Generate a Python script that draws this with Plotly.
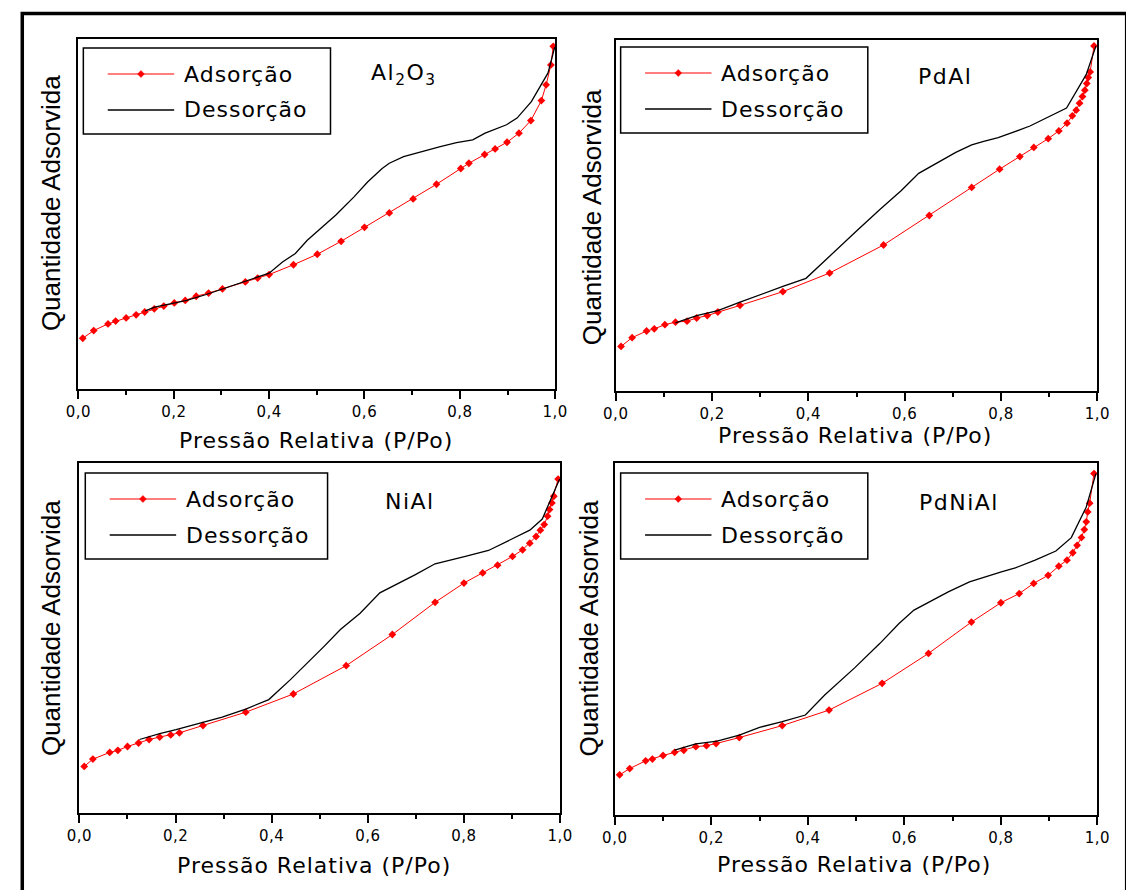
import plotly.graph_objects as go

W, H = 1126, 890

# ---- Isotherm data: relative pressure P/Po and adsorbed quantity (arbitrary units) ----
al2o3_ads_p = [0.009, 0.032, 0.062, 0.078, 0.10, 0.121, 0.139, 0.159, 0.179, 0.201, 0.224, 0.247,
               0.273, 0.302, 0.350, 0.376, 0.40, 0.451, 0.501, 0.551, 0.60, 0.652, 0.702, 0.751,
               0.802, 0.819, 0.852, 0.874, 0.899, 0.924, 0.949, 0.971, 0.981, 0.991, 0.996]
al2o3_ads_q = [14.5, 16.7, 18.6, 19.4, 20.3, 21.2, 22.0, 22.9, 23.7, 24.6, 25.3, 26.5,
               27.4, 28.6, 30.6, 31.7, 32.7, 35.5, 38.5, 42.2, 46.2, 50.3, 54.3, 58.5,
               63.0, 64.5, 67.0, 68.6, 70.5, 73.1, 76.7, 82.4, 86.9, 92.6, 97.9]
al2o3_des_p = [0.999, 0.985, 0.95, 0.92, 0.898, 0.853, 0.827, 0.793, 0.757, 0.72, 0.682, 0.652,
               0.637, 0.607, 0.578, 0.54, 0.503, 0.48, 0.455, 0.428, 0.40, 0.376, 0.347, 0.302,
               0.268, 0.227, 0.19, 0.16, 0.14]
al2o3_des_q = [97.7, 90.3, 82.1, 77.4, 75.5, 73.1, 71.2, 70.4, 69.2, 67.8, 66.4, 64.5,
               63.0, 59.2, 54.9, 49.7, 45.4, 42.5, 38.7, 36.3, 33.1, 32.0, 30.6, 28.4,
               27.0, 25.3, 24.2, 23.4, 22.3]

pdal_ads_p = [0.011, 0.034, 0.064, 0.080, 0.102, 0.124, 0.148, 0.168, 0.19, 0.212, 0.258, 0.347,
              0.444, 0.556, 0.651, 0.739, 0.797, 0.839, 0.868, 0.898, 0.92, 0.937, 0.948, 0.956,
              0.963, 0.969, 0.974, 0.978, 0.981, 0.985, 0.993]
pdal_ads_q = [12.7, 15.2, 17.1, 17.7, 18.9, 19.6, 19.9, 20.8, 21.5, 22.5, 24.4, 28.3,
              33.6, 41.6, 50.0, 58.0, 63.2, 66.8, 69.4, 71.9, 74.1, 76.3, 78.4, 80.0,
              82.0, 83.9, 85.7, 87.6, 89.3, 90.9, 98.3]
pdal_des_p = [0.997, 0.977, 0.936, 0.90, 0.86, 0.823, 0.794, 0.764, 0.739, 0.706, 0.662, 0.629,
              0.593, 0.549, 0.501, 0.45, 0.395, 0.347, 0.30, 0.258, 0.212, 0.168, 0.124]
pdal_des_q = [98.3, 90.2, 80.6, 78.1, 75.5, 73.6, 72.2, 71.1, 70.1, 68.0, 64.6, 62.0,
              57.1, 51.8, 45.7, 39.1, 32.1, 29.8, 27.5, 25.3, 22.9, 21.5, 19.4]

nial_ads_p = [0.01, 0.028, 0.063, 0.08, 0.10, 0.123, 0.145, 0.167, 0.19, 0.208, 0.257, 0.346,
              0.445, 0.555, 0.651, 0.74, 0.80, 0.839, 0.87, 0.901, 0.922, 0.937, 0.95, 0.959,
              0.967, 0.974, 0.978, 0.983, 0.987, 0.996]
nial_ads_q = [13.3, 15.4, 17.3, 17.9, 19.0, 20.0, 21.0, 21.7, 22.3, 22.9, 25.0, 28.8,
              34.0, 42.1, 51.0, 60.2, 65.7, 68.6, 70.8, 73.3, 75.2, 77.1, 79.0, 80.8,
              82.4, 84.8, 86.7, 88.6, 90.5, 95.4]
nial_des_p = [0.999, 0.963, 0.937, 0.896, 0.851, 0.803, 0.773, 0.74, 0.699, 0.658, 0.625, 0.584,
              0.543, 0.509, 0.468, 0.439, 0.394, 0.346, 0.297, 0.253, 0.201, 0.167, 0.125]
nial_des_q = [95.4, 84.0, 80.8, 78.1, 75.0, 73.3, 72.4, 71.2, 68.1, 65.2, 62.9, 57.1,
              52.4, 47.6, 42.1, 38.1, 32.4, 29.7, 27.4, 25.7, 23.8, 22.7, 21.0]

pdnial_ads_p = [0.01, 0.031, 0.064, 0.078, 0.10, 0.124, 0.143, 0.168, 0.19, 0.21, 0.258, 0.347,
                0.444, 0.554, 0.65, 0.739, 0.80, 0.838, 0.868, 0.898, 0.92, 0.937, 0.949, 0.958,
                0.967, 0.973, 0.977, 0.98, 0.984, 0.993]
pdnial_ads_q = [11.4, 13.2, 15.4, 15.9, 16.9, 17.8, 18.4, 19.4, 19.7, 20.3, 22.0, 25.4,
                29.8, 37.4, 45.9, 54.8, 60.3, 62.9, 65.8, 68.1, 70.7, 72.4, 74.5, 76.6,
                78.8, 81.1, 83.3, 86.1, 88.6, 97.0]
pdnial_des_p = [0.997, 0.977, 0.946, 0.914, 0.871, 0.83, 0.801, 0.764, 0.735, 0.691, 0.651, 0.62,
                0.589, 0.549, 0.497, 0.435, 0.395, 0.347, 0.30, 0.258, 0.212, 0.168, 0.124]
pdnial_des_q = [97.0, 87.5, 78.8, 75.0, 72.4, 70.2, 69.1, 67.5, 66.2, 63.4, 60.5, 58.2,
                54.4, 48.7, 41.8, 34.1, 28.4, 26.5, 24.9, 22.7, 21.0, 20.2, 18.4]

x_tickvals = [0.0, 0.2, 0.4, 0.6, 0.8, 1.0]
x_ticktext = ["0,0", "0,2", "0,4", "0,6", "0,8", "1,0"]
x_minorvals = [0.1, 0.3, 0.5, 0.7, 0.9]

series_names = ["Adsorção", "Dessorção"]
x_title = "Pressão Relativa (P/Po)"
y_title = "Quantidade Adsorvida"

# ---- Layout of the four panels (pixel boxes on the page) ----
panels = [
    dict(label="Al<sub>2</sub>O<sub>3</sub>", ads=(al2o3_ads_p, al2o3_ads_q), des=(al2o3_des_p, al2o3_des_q),
         box=(67, 39, 555, 389), label_xy=(400, 75), legend_xy=(72, 48), legend_w=253,
         xtitle_xy=(310, 440), ytitle_xy=(39, 203)),
    dict(label="PdAl", ads=(pdal_ads_p, pdal_ads_q), des=(pdal_des_p, pdal_des_q),
         box=(617, 40, 1110, 391), label_xy=(954, 76), legend_xy=(622, 47), legend_w=253,
         xtitle_xy=(862, 435), ytitle_xy=(593, 217)),
    dict(label="NiAl", ads=(nial_ads_p, nial_ads_q), des=(nial_des_p, nial_des_q),
         box=(68, 463, 560, 813), label_xy=(406, 501), legend_xy=(74, 473), legend_w=248,
         xtitle_xy=(308, 865), ytitle_xy=(39, 628)),
    dict(label="PdNiAl", ads=(pdnial_ads_p, pdnial_ads_q), des=(pdnial_des_p, pdnial_des_q),
         box=(616, 463, 1110, 815), label_xy=(968, 503), legend_xy=(622, 473), legend_w=253,
         xtitle_xy=(861, 864), ytitle_xy=(590, 628)),
]


def px(x):
    return x / W


def py(y):
    return 1 - y / H


def spaced(text, gap):
    """Wrap a label so that its glyphs are drawn with extra letter spacing."""
    return f'<span style="letter-spacing:{gap}px">{text}</span>'


RED = "#ff0000"
TEXT_FONT = "DejaVu Sans, Verdana, sans-serif"

fig = go.Figure()
shapes = []
annotations = []
layout_axes = {}

for i, p in enumerate(panels, start=1):
    xa = "x" if i == 1 else f"x{i}"
    ya = "y" if i == 1 else f"y{i}"
    x0, y0, x1, y1 = p["box"]

    fig.add_trace(go.Scatter(
        x=p["ads"][0], y=p["ads"][1], xaxis=xa, yaxis=ya, name=series_names[0],
        mode="lines+markers", line=dict(color=RED, width=1),
        marker=dict(symbol="diamond", size=6, color=RED), showlegend=False))
    fig.add_trace(go.Scatter(
        x=p["des"][0], y=p["des"][1], xaxis=xa, yaxis=ya, name=series_names[1],
        mode="lines", line=dict(color="black", width=1.3), showlegend=False))

    xkey = "xaxis" if i == 1 else f"xaxis{i}"
    ykey = "yaxis" if i == 1 else f"yaxis{i}"
    layout_axes[xkey] = dict(
        domain=[px(x0), px(x1)], range=[0, 1], anchor=ya,
        tickmode="array", tickvals=x_tickvals, ticktext=[spaced(t, 0.5) for t in x_ticktext],
        ticks="outside", ticklen=8, tickwidth=1.5, tickcolor="black",
        minor=dict(tickmode="array", tickvals=x_minorvals, ticks="outside",
                   ticklen=4, tickwidth=1.5, tickcolor="black"),
        showline=True, linecolor="black", linewidth=1.5, mirror=True,
        showgrid=False, zeroline=False,
        tickfont=dict(family=TEXT_FONT, size=15, color="black"))
    layout_axes[ykey] = dict(
        domain=[py(y1), py(y0)], range=[0, 100], anchor=xa,
        showticklabels=False, ticks="",
        showline=True, linecolor="black", linewidth=1.5, mirror=True,
        showgrid=False, zeroline=False)

    # sample label
    lx, ly = p["label_xy"]
    annotations.append(dict(text=spaced(p["label"], 1.5), x=px(lx), y=py(ly), xref="paper", yref="paper",
                            xanchor="center", yanchor="middle", showarrow=False,
                            font=dict(family=TEXT_FONT, size=22, color="black")))
    # axis titles
    tx, ty = p["xtitle_xy"]
    annotations.append(dict(text=spaced(x_title, 1), x=px(tx), y=py(ty), xref="paper", yref="paper",
                            xanchor="center", yanchor="middle", showarrow=False,
                            font=dict(family=TEXT_FONT, size=22, color="black")))
    vx, vy = p["ytitle_xy"]
    annotations.append(dict(text=y_title, x=px(vx), y=py(vy), xref="paper", yref="paper",
                            xanchor="center", yanchor="middle", showarrow=False, textangle=-90,
                            font=dict(family="Liberation Sans, Arial, sans-serif", size=26, color="black")))

    # legend box
    bx, by = p["legend_xy"]
    bw = p["legend_w"]
    shapes.append(dict(type="rect", xref="paper", yref="paper",
                       x0=px(bx), x1=px(bx + bw), y0=py(by), y1=py(by + 86),
                       line=dict(color="black", width=1.5), fillcolor="white", layer="above"))
    r1, r2 = by + 26, by + 62
    shapes.append(dict(type="line", xref="paper", yref="paper",
                       x0=px(bx + 25), x1=px(bx + 93), y0=py(r1), y1=py(r1),
                       line=dict(color=RED, width=1.2), layer="above"))
    mx = bx + 59
    shapes.append(dict(type="path", xref="paper", yref="paper",
                       path=f"M {px(mx - 3.5)},{py(r1)} L {px(mx)},{py(r1 - 3.5)} "
                            f"L {px(mx + 3.5)},{py(r1)} L {px(mx)},{py(r1 + 3.5)} Z",
                       fillcolor=RED, line=dict(color=RED, width=0.5), layer="above"))
    shapes.append(dict(type="line", xref="paper", yref="paper",
                       x0=px(bx + 25), x1=px(bx + 93), y0=py(r2), y1=py(r2),
                       line=dict(color="black", width=1.3), layer="above"))
    for name, ry in zip(series_names, (r1, r2)):
        annotations.append(dict(text=spaced(name, 1), x=px(bx + 101), y=py(ry), xref="paper", yref="paper",
                                xanchor="left", yanchor="middle", showarrow=False,
                                font=dict(family=TEXT_FONT, size=22, color="black")))

# outer frame around the figure
shapes.append(dict(type="rect", xref="paper", yref="paper",
                   x0=px(9.5), y0=py(13.5), x1=px(1140), y1=py(905),
                   line=dict(color="black", width=3.5), layer="above"))

fig.update_layout(
    width=W, height=H, margin=dict(l=0, r=0, t=0, b=0),
    paper_bgcolor="white", plot_bgcolor="white",
    showlegend=False, shapes=shapes, annotations=annotations,
    **layout_axes)

fig.write_html("out.html")
